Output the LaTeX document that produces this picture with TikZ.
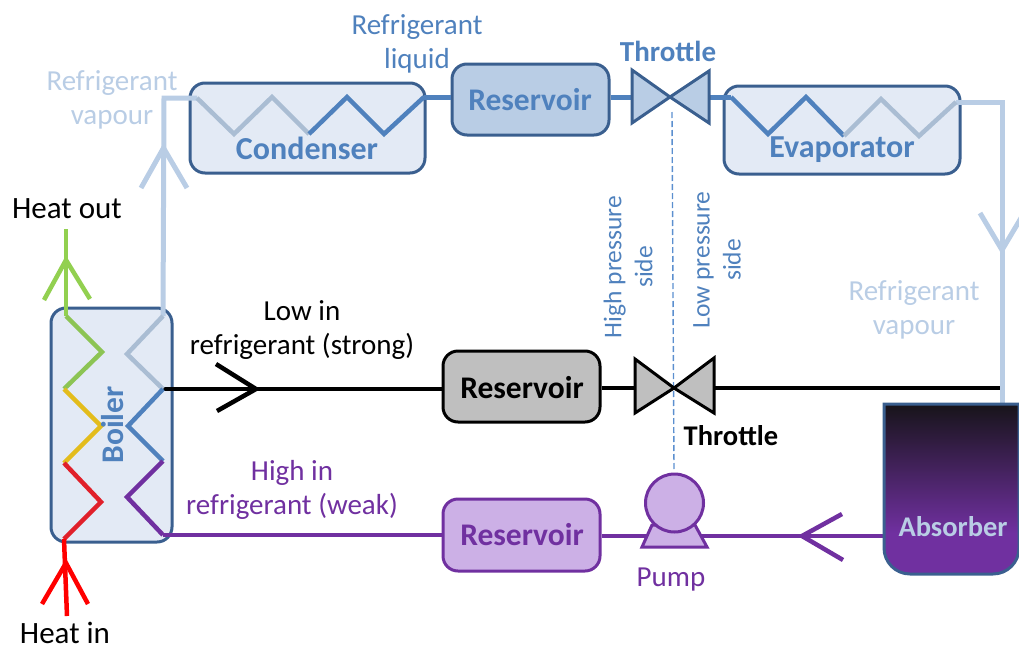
\documentclass[tikz,border=0pt]{standalone}
\usepackage{fontspec}
\setmainfont{Carlito}
\definecolor{edgeblue}{HTML}{3A5F8F}
\definecolor{boxpale}{HTML}{E3EAF5}
\definecolor{boxmid}{HTML}{B9CDE5}
\definecolor{lightref}{HTML}{B9CDE5}
\definecolor{midblue}{HTML}{4F81BD}
\definecolor{dashblue}{HTML}{5B8FCF}
\definecolor{violet1}{HTML}{7030A0}
\definecolor{violetpale}{HTML}{CCB0E6}
\definecolor{greyfill}{HTML}{BFBFBF}
\definecolor{heatgreen}{HTML}{92D050}
\definecolor{zgreen}{HTML}{8CC454}
\definecolor{zyellow}{HTML}{E3BC1C}
\definecolor{zred}{HTML}{E0202A}
\definecolor{absdark}{HTML}{17141A}
\pgfdeclareverticalshading{absgrad}{100bp}{color(0bp)=(violet1); color(25bp)=(violet1); color(37bp)=(violet1); color(75bp)=(absdark); color(100bp)=(absdark)}
\tikzset{
  txt/.style={font=\fontsize{29}{34}\selectfont,align=center,inner sep=0pt},
  btxt/.style={font=\fontsize{31.5}{36}\selectfont\bfseries,align=center,inner sep=0pt},
  box/.style={draw=edgeblue,line width=3pt,rounded corners=15pt,inner sep=0pt},
  pipe/.style={line width=4.5pt,line cap=butt,line join=miter},
  pipethick/.style={line width=5pt,line cap=butt,line join=miter},
  chevron/.style={line width=4.5pt,line join=miter,line cap=butt},
  valveshape/.style={line width=3pt,line join=miter},
}
\begin{document}
\begin{tikzpicture}[x=1pt,y=-1pt]
\useasboundingbox (0,0) rectangle (1019,645);
% coordinates of the pipe work
\coordinate (gt) at (66,229);
\coordinate (l0) at (66,316);
\coordinate (l1) at (102,352);
\coordinate (l2) at (64,389);
\coordinate (l3) at (101,426);
\coordinate (l4) at (64,463);
\coordinate (l5) at (101,502);
\coordinate (l6) at (64,539);
\coordinate (rb) at (67,616);
\coordinate (r0) at (163,316);
\coordinate (r1) at (127,354);
\coordinate (r2) at (163,389);
\coordinate (r3) at (128,426);
\coordinate (r4) at (163,461);
\coordinate (r5) at (127,497);
\coordinate (r6) at (163,535);
\coordinate (vapcorner) at (164,98);
\coordinate (c0) at (197,98);
\coordinate (c1) at (234,134);
\coordinate (c2) at (272,97);
\coordinate (c3) at (309,134);
\coordinate (c4) at (347,97);
\coordinate (c5) at (384,134);
\coordinate (c6) at (424,97);
\coordinate (e0) at (731,97);
\coordinate (e1) at (768,134);
\coordinate (e2) at (806,97);
\coordinate (e3) at (844,136);
\coordinate (e4) at (881,99);
\coordinate (e5) at (919,136);
\coordinate (e6) at (956,102);
\coordinate (ecorner) at (1002,102);
\coordinate (ebottom) at (1002,404);
\coordinate (vc1) at (670,97);
\coordinate (vc2) at (674,388);
\coordinate (blkend) at (1000,388);
% boxes
\node[box,fill=boxpale,minimum width=121pt,minimum height=234pt] (boiler) at (111.5,425) {};
\node[box,fill=boxpale,minimum width=235pt,minimum height=90pt] (condenser) at (307.5,128) {};
\node[box,fill=boxpale,minimum width=236pt,minimum height=88pt] (evaporator) at (842,130) {};
\node[box,fill=boxmid,minimum width=157pt,minimum height=71pt] (res1) at (530.5,99.5) {};
\node[box,draw=black,fill=greyfill,minimum width=157pt,minimum height=71pt] (res2) at (521.5,386.5) {};
\node[box,draw=violet1,fill=violetpale,minimum width=157pt,minimum height=72pt] (res3) at (521.5,535) {};
% light vapour pipes
\draw[pipethick,lightref] (r0) -- (vapcorner) -- (c0);
\draw[chevron,lightref,line width=5pt] (141,188) -- (163.5,148) -- (187,188);
\draw[pipethick,lightref] (e6) -- (ecorner) -- (ebottom);
\draw[chevron,lightref,line width=5pt] (980,213) -- (1002,250) -- (1024,213);
% liquid lines
\draw[pipe,line width=5pt,midblue] (c6) -- (res1.west |- c6);
\draw[pipe,line width=5pt,midblue] (res1.east |- vc1) -- (632,97);
\draw[pipe,line width=5pt,midblue] (709,97) -- (e0);
% black line
\draw[pipe,black] (r2) -- (res2.west |- r2);
\draw[pipe,black] (res2.east |- vc2) -- (635,388);
\draw[pipe,black] (714,388) -- (blkend);
\draw[chevron,black] (216,364) -- (256,389) -- (217,411);
% purple line
\draw[pipe,violet1] (r6) -- (res3.west |- r6);
\draw[pipe,violet1] (res3.east |- 0,536) -- (884,536);
\draw[chevron,violet1] (842,514) -- (802,536) -- (843,560);
% zigzags
\draw[pipe,heatgreen] (gt) -- (l0);
\draw[chevron,heatgreen] (44,300) -- (66,260) -- (90,299);
\draw[pipe,zgreen] (l0) -- (l1) -- (l2);
\draw[pipe,zyellow] (l2) -- (l3) -- (l4);
\draw[pipe,zred] (l4) -- (l5) -- (l6);
\draw[pipe,red] (l6) -- (rb);
\draw[chevron,red] (42,604) -- (66,563) -- (88,604);
\draw[pipe,lightref!92!black] (r0) -- (r1) -- (r2);
\draw[pipe,midblue] (r2) -- (r3) -- (r4);
\draw[pipe,violet1] (r4) -- (r5) -- (r6);
\draw[pipe,lightref!92!black] (c0) -- (c1) -- (c2) -- (c3);
\draw[pipe,midblue] (c3) -- (c4) -- (c5) -- (c6);
\draw[pipe,midblue] (e0) -- (e1) -- (e2) -- (e3);
\draw[pipe,lightref!92!black] (e3) -- (e4) -- (e5) -- (e6);
% dashed pressure divide
\draw[dashblue,line width=1.4pt,dash pattern=on 6pt off 3pt] (672,112) -- (674,470);
% valves
\draw[valveshape,draw=edgeblue,fill=boxmid] (632,70) -- (632,123) -- (vc1) -- cycle;
\draw[valveshape,draw=edgeblue,fill=boxmid] (709,71) -- (709,123) -- (vc1) -- cycle;
\draw[valveshape,draw=black,fill=greyfill] (635,359) -- (635,413) -- (vc2) -- cycle;
\draw[valveshape,draw=black,fill=greyfill] (714,358) -- (714,413) -- (vc2) -- cycle;
% pump
\draw[valveshape,draw=violet1,fill=violetpale] (652,525) -- (642,547) -- (707,547) -- (695,525) -- cycle;
\node[circle,draw=violet1,line width=3pt,fill=violetpale,minimum size=58pt,inner sep=0pt] (pump) at (674.5,503) {};
% absorber
\path[shading=absgrad,draw=edgeblue,line width=3pt] (884,404) [rounded corners=26pt] -- (884,574) -- (1019,574) [sharp corners] -- (1019,404) -- cycle;
% labels
\node[btxt,text=midblue,font=\fontsize{32}{36}\selectfont\bfseries] (lcond) at (307,148) {Condenser};
\node[btxt,text=midblue] (lres1) at (530,100) {Reservoir};
\node[btxt,text=midblue,font=\fontsize{29}{36}\selectfont\bfseries] (lthr1) at (668,51) {Throttle};
\node[btxt,text=midblue,font=\fontsize{32}{36}\selectfont\bfseries] (levap) at (842,150) {Evaporator};
\node[btxt,text=midblue,rotate=90] (lboil) at (113,425) {Boiler};
\node[btxt,text=black] (lres2) at (522,388) {Reservoir};
\node[btxt,text=violet1] (lres3) at (522,535) {Reservoir};
\node[btxt,text=black,font=\fontsize{28.5}{36}\selectfont\bfseries] (lthr2) at (731,436) {Throttle};
\node[btxt,text=lightref,font=\fontsize{28.5}{36}\selectfont\bfseries] (labs) at (953,527) {Absorber};
\node[txt,text=lightref] (lv1) at (112,100) {Refrigerant\\vapour};
\node[txt,text=midblue] (lliq) at (417,44) {Refrigerant\\liquid};
\node[txt,text=lightref] (lv2) at (914,310) {Refrigerant\\vapour};
\node[txt,text=black,font=\fontsize{31}{36}\selectfont] (lout) at (67,209) {Heat out};
\node[text=black,font=\fontsize{31}{36}\selectfont,inner sep=0pt,anchor=base] (lin) at (65,643) {Heat in};
\node[txt,text=black] (llow) at (302,330) {Low in\\refrigerant (strong)};
\node[txt,text=violet1] (lhigh) at (292,490) {High in\\refrigerant (weak)};
\node[txt,text=violet1] (lpump) at (671,580) {Pump};
\node[txt,text=midblue,rotate=90,font=\fontsize{25.5}{31}\selectfont] (lhp) at (628,267) {High pressure\\side};
\node[txt,text=midblue,rotate=90,font=\fontsize{25.5}{31}\selectfont] (llp) at (717,260) {Low pressure\\side};
\end{tikzpicture}
\end{document}
